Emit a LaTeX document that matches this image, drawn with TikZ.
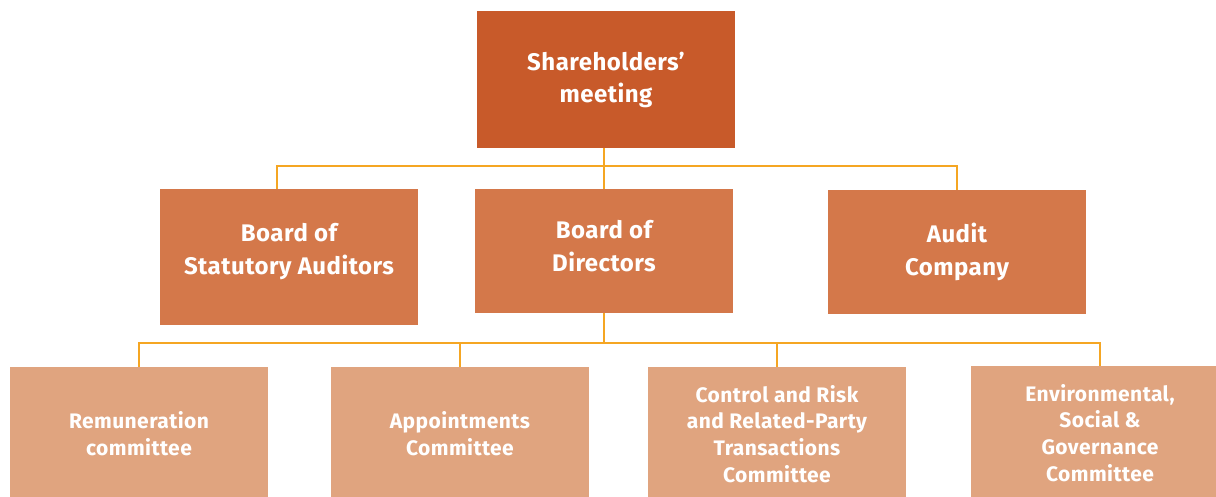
\documentclass[tikz,border=0pt]{standalone}
\usepackage{fontspec}
\setmainfont{Fira Sans}[LetterSpace=2]
\usepackage{xcolor}
\usetikzlibrary{calc}

\definecolor{topfill}{HTML}{C85A2A}
\definecolor{midfill}{HTML}{D4784A}
\definecolor{lowfill}{HTML}{E0A47F}
\definecolor{linkline}{HTML}{F5A623}

\tikzset{
  orgbox/.style={rectangle, fill=#1, text=white, align=center,
    minimum width=258pt, inner sep=0pt},
  link/.style={draw=linkline, line width=2pt}
}

\begin{document}
\begin{tikzpicture}[x=1pt,y=-1pt]
        % page frame
        \useasboundingbox (0,0) rectangle (1216,497);
        \clip (0,0) rectangle (1216,497);

        % Top level
        \node[orgbox=topfill, minimum height=137pt, font=\bfseries\fontsize{24}{32}\selectfont]
            (share) at (606,79.5) {Shareholders'\\meeting};

        % Second level
        \def\midfont{\bfseries\fontsize{24}{33}\selectfont}
        \node[orgbox=midfill, minimum height=136pt, text depth=16pt, font=\midfont]
            (bsa) at (289,257) {Board of\\Statutory Auditors};
        \node[orgbox=midfill, minimum height=124pt, text depth=10pt, font=\midfont]
            (bod) at (604,251) {Board of\\Directors};
        \node[orgbox=midfill, minimum height=124pt, font=\midfont]
            (audit) at (957,252) {Audit\\Company};

        % Committees
        \def\lowfont{\bfseries\fontsize{21}{26.7}\selectfont}
        \node[orgbox=lowfill, minimum height=134pt, font=\lowfont]
            (rem) at (139,434) {Remuneration\\committee};
        \node[orgbox=lowfill, minimum height=134pt, font=\lowfont]
            (app) at (460,434) {Appointments\\Committee};
        \node[orgbox=lowfill, minimum height=134pt, font=\lowfont]
            (crt) at (777,434) {Control and Risk\\and Related-Party\\Transactions\\Committee};
        \node[orgbox=lowfill, minimum height=134pt, font=\lowfont]
            (esg) at (1100,433) {Environmental,\\Social \&\\Governance\\Committee};

        % Links to the second level
        \draw[link] (share.south -| bod.north) -- ++(0,18) coordinate (hub1);
        \draw[link] ([xshift=-12pt]bsa.north) |- (hub1) -| (audit.north);
        \draw[link] (hub1) -- (bod.north);

        % Links to the committees
        \draw[link] (bod.south) -- ++(0,30) coordinate (hub2);
        \draw[link] (rem.north) |- (hub2) -| (esg.north);
        \draw[link] (app.north) -- (app.north |- hub2);
        \draw[link] (crt.north) -- (crt.north |- hub2);
    \end{tikzpicture}
\end{document}
